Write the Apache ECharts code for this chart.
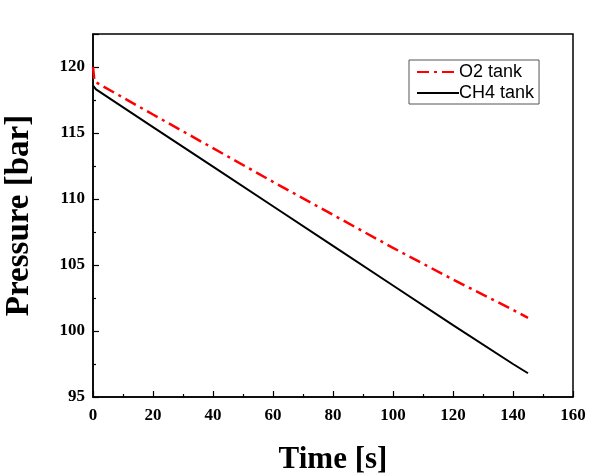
<!DOCTYPE html>
<html><head><meta charset="utf-8">
<script src="https://cdn.jsdelivr.net/npm/echarts@6/dist/echarts.min.js"></script>
<style>html,body{margin:0;padding:0;background:#fff}#c{width:598px;height:476px}</style>
</head><body><div id="c"></div>
<script>
const seriesNames = ['O2 tank', 'CH4 tank'];
const o2Time = [0, 0.5, 20, 40, 60, 80, 100, 120, 140, 145];
const o2Pressure = [120, 118.9, 116.4, 113.85, 111.3, 108.8, 106.3, 103.9, 101.6, 101.0];
const ch4Time = [0, 1, 20, 40, 60, 80, 100, 120, 140, 145];
const ch4Pressure = [118.6, 118.3, 115.45, 112.45, 109.45, 106.45, 103.45, 100.45, 97.5, 96.8];
const xTicks = [0, 20, 40, 60, 80, 100, 120, 140, 160];
const yTicks = [95, 100, 105, 110, 115, 120];

const zip = (a, b) => a.map((v, i) => [v, b[i]]);
const chart = echarts.init(document.getElementById('c'), null, {renderer: 'canvas'});
const serif = '"Liberation Serif", "Times New Roman", serif';
chart.setOption({
  animation: false,
  backgroundColor: '#fff',
  grid: {left: 93, right: 25, top: 34, bottom: 79, show: true, borderColor: '#000', borderWidth: 1.5,
    backgroundColor: 'transparent', containLabel: false, outerBoundsMode: 'none'},
  legend: {
    data: seriesNames, orient: 'vertical', left: 409, top: 60,
    itemWidth: 42, itemHeight: 12, itemGap: 3,
    padding: [3, 5, 2, 7],
    borderColor: '#555', borderWidth: 1,
    itemStyle: {opacity: 0},
    textStyle: {fontFamily: '"Liberation Sans", Arial, sans-serif', fontSize: 18, color: '#000', padding: [0, 0, 0, -5]}
  },
  xAxis: {
    type: 'value', min: 0, max: 160, interval: 20,
    name: 'Time [s]', nameLocation: 'middle', nameGap: 47,
    nameTextStyle: {fontFamily: serif, fontWeight: 'bold', fontSize: 31, color: '#000'},
    axisLine: {lineStyle: {color: '#000', width: 1.5}},
    axisTick: {inside: true, length: 6, lineStyle: {color: '#000', width: 1.2}},
    minorTick: {show: true, splitNumber: 2, length: 3, lineStyle: {color: '#000', width: 1.2}},
    axisLabel: {fontFamily: serif, fontWeight: 'bold', fontSize: 17, color: '#000', margin: 10,
      formatter: v => (xTicks.includes(v) ? String(v) : '')},
    splitLine: {show: false}
  },
  yAxis: {
    type: 'value', min: 95, max: 122.5, interval: 5,
    name: 'Pressure [bar]', nameLocation: 'middle', nameGap: 57, nameRotate: 90,
    nameTextStyle: {fontFamily: serif, fontWeight: 'bold', fontSize: 33, color: '#000'},
    axisLine: {lineStyle: {color: '#000', width: 1.5}},
    axisTick: {inside: true, length: 6, lineStyle: {color: '#000', width: 1.2}},
    minorTick: {show: true, splitNumber: 2, length: 3, lineStyle: {color: '#000', width: 1.2}},
    axisLabel: {fontFamily: serif, fontWeight: 'bold', fontSize: 17, color: '#000', margin: 8,
      formatter: v => (yTicks.includes(v) ? String(v) : '')},
    splitLine: {show: false}
  },
  series: [
    {name: seriesNames[0], type: 'line', data: zip(o2Time, o2Pressure), symbol: 'none', color: '#ff0000',
      lineStyle: {color: '#ff0000', width: 2.5, type: [12, 5, 3, 5]}},
    {name: seriesNames[1], type: 'line', data: zip(ch4Time, ch4Pressure), symbol: 'none', color: '#000',
      lineStyle: {color: '#000', width: 2}}
  ]
});
</script></body></html>
